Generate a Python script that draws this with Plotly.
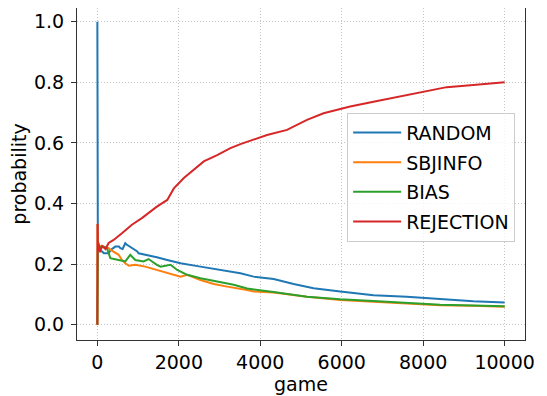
import plotly.graph_objects as go

series_names = ["RANDOM", "SBJINFO", "BIAS", "REJECTION"]
colors = ["#1f77b4", "#ff7f0e", "#2ca02c", "#d62728"]

random_games = [0, 1, 3, 6, 12, 60, 113, 162, 277, 328, 441, 530, 564, 620, 686, 718, 848, 980, 1012, 1216, 1461, 1716, 2042, 2532, 3022, 3512, 3838, 4329, 4819, 5309, 5963, 6779, 7598, 8414, 9231, 10000]
random_vals = [1.0, 0.5, 0.333, 0.333, 0.25, 0.245, 0.242, 0.236, 0.236, 0.247, 0.258, 0.258, 0.253, 0.25, 0.269, 0.265, 0.253, 0.242, 0.236, 0.231, 0.223, 0.214, 0.203, 0.192, 0.181, 0.17, 0.159, 0.151, 0.135, 0.121, 0.11, 0.098, 0.093, 0.085, 0.078, 0.074]

sbjinfo_games = [0, 1, 3, 6, 12, 60, 113, 277, 328, 400, 522, 603, 686, 775, 931, 1176, 1470, 1797, 2042, 2205, 2532, 2858, 3185, 3676, 3838, 4329, 5147, 5963, 6779, 7598, 8414, 9231, 10000]
sbjinfo_vals = [0.0, 0.17, 0.333, 0.167, 0.25, 0.26, 0.258, 0.253, 0.247, 0.242, 0.231, 0.214, 0.203, 0.195, 0.198, 0.192, 0.181, 0.17, 0.159, 0.165, 0.148, 0.135, 0.126, 0.115, 0.11, 0.107, 0.093, 0.082, 0.077, 0.072, 0.065, 0.063, 0.06]

bias_games = [0, 1, 3, 6, 12, 60, 154, 236, 318, 522, 686, 808, 931, 1135, 1257, 1461, 1552, 1797, 1960, 2205, 2532, 2941, 3348, 3676, 4002, 4329, 5147, 5963, 6779, 7598, 8414, 9231, 10000]
bias_vals = [0.0, 0.2, 0.0, 0.167, 0.25, 0.255, 0.258, 0.253, 0.22, 0.214, 0.209, 0.231, 0.214, 0.209, 0.217, 0.198, 0.192, 0.198, 0.181, 0.165, 0.154, 0.143, 0.132, 0.12, 0.113, 0.108, 0.093, 0.084, 0.079, 0.072, 0.066, 0.064, 0.061]

rejection_games = [0, 1, 3, 6, 12, 30, 60, 120, 200, 277, 400, 603, 848, 1093, 1461, 1716, 1878, 2123, 2368, 2613, 2941, 3267, 3512, 3838, 4167, 4657, 5147, 5554, 5882, 6208, 6779, 7598, 8005, 8578, 9231, 10000]
rejection_vals = [0.0, 0.13, 0.333, 0.333, 0.25, 0.27, 0.24, 0.26, 0.25, 0.27, 0.28, 0.302, 0.33, 0.352, 0.39, 0.412, 0.45, 0.484, 0.511, 0.539, 0.56, 0.583, 0.596, 0.61, 0.626, 0.643, 0.676, 0.698, 0.709, 0.72, 0.736, 0.758, 0.769, 0.784, 0.791, 0.80]

x_ticks = [0, 2000, 4000, 6000, 8000, 10000]
y_ticks = [0.0, 0.2, 0.4, 0.6, 0.8, 1.0]

data = [
    (random_games, random_vals),
    (sbjinfo_games, sbjinfo_vals),
    (bias_games, bias_vals),
    (rejection_games, rejection_vals),
]

fig = go.Figure()
for name, color, (xs, ys) in zip(series_names, colors, data):
    fig.add_trace(go.Scatter(x=xs, y=ys, mode="lines", name=name,
                             legendgroup=name,
                             line=dict(color=color, width=2)))

font = dict(family="DejaVu Sans", size=19, color="black")
axis_common = dict(
    showgrid=True, gridcolor="#c4c4c4", griddash="1px,2px", gridwidth=1,
    showline=True, linecolor="#333333", linewidth=1, mirror=True,
    ticks="outside", ticklen=5, tickcolor="#333333",
    zeroline=False, tickfont=font, title_font=font, automargin=False,
)
fig.update_xaxes(range=[-500, 10500], tickvals=x_ticks, tickformat="d",
                 title_text="game", title_standoff=4, **axis_common)
fig.update_yaxes(range=[-0.05, 1.045], tickvals=y_ticks, tickformat=".1f",
                 title_text="probability", title_standoff=6,
                 ticklabelstandoff=3, **axis_common)

# page body adds an 8px offset, so the figure is sized 8px smaller
fig.update_layout(
    width=539, height=388,
    margin=dict(l=69, r=22, t=0, b=56),
    paper_bgcolor="white", plot_bgcolor="white",
    font=font,
    showlegend=True,
    legend=dict(x=0.978, y=0.685, xanchor="right", yanchor="top",
                bgcolor="rgba(255,255,255,0.8)", bordercolor="#cccccc",
                borderwidth=1, font=font, traceorder="grouped",
                tracegroupgap=2, itemwidth=48),
)

fig.write_html("out.html")
